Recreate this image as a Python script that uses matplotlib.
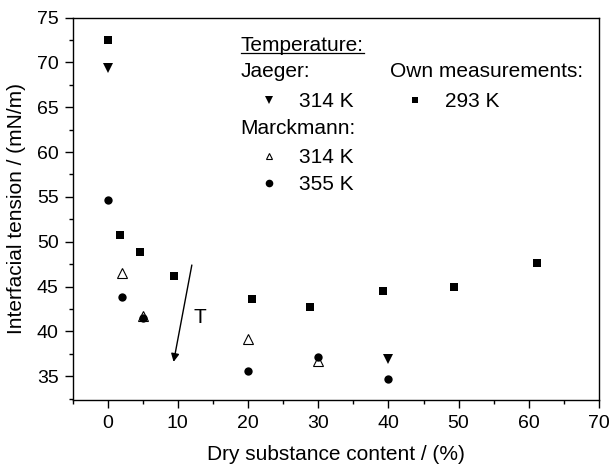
import matplotlib
matplotlib.use("Agg")
import matplotlib.pyplot as plt
from matplotlib.ticker import MultipleLocator
from matplotlib.lines import Line2D

plt.rcParams['font.family'] = ['Liberation Sans', 'DejaVu Sans']

# Own measurements, 293 K
own_x = [0, 1.8, 4.6, 9.4, 20.6, 28.9, 39.3, 49.3, 61.2]
own_y = [72.5, 50.8, 48.9, 46.2, 43.6, 42.7, 44.5, 44.9, 47.6]
# Jaeger, 314 K
jaeger_x = [0, 40]
jaeger_y = [69.4, 36.9]
# Marckmann, 314 K
marck314_x = [2, 5, 20, 30]
marck314_y = [46.5, 41.7, 39.1, 36.7]
# Marckmann, 355 K
marck355_x = [0, 2, 5, 20, 30, 40]
marck355_y = [54.7, 43.8, 41.5, 35.6, 37.1, 34.7]

xticks = [0, 10, 20, 30, 40, 50, 60, 70]
yticks = [35, 40, 45, 50, 55, 60, 65, 70, 75]

fig = plt.figure(figsize=(6.11, 4.66), dpi=100)
ax = fig.add_axes([72.5/611, 1-400/466, (599-72.5)/611, (400-17.5)/466])

ax.plot(own_x, own_y, 's', color='black', ms=5.5, mew=0)
ax.plot(jaeger_x, jaeger_y, 'v', color='black', ms=6.5, mew=0)
ax.plot(marck314_x, marck314_y, '^', mfc='white', mec='black', ms=6.5, mew=0.8)
ax.plot(marck355_x, marck355_y, 'o', color='black', ms=6, mew=0)

ax.set_xlim(-5, 70)
ax.set_ylim(32.35, 75)
ax.set_xticks(xticks)
ax.set_yticks(yticks)
ax.xaxis.set_minor_locator(MultipleLocator(5))
ax.yaxis.set_minor_locator(MultipleLocator(2.5))
ax.tick_params(which='major', direction='out', length=5.5, width=1, labelsize=14)
ax.tick_params(which='minor', direction='out', length=3, width=1)
ax.tick_params(axis='x', which='major', pad=5.5)
ax.tick_params(axis='y', which='major', pad=4.5)
for s in ax.spines.values():
    s.set_linewidth(1)

ax.set_xlabel('Dry substance content / (%)', fontsize=15, labelpad=9)
ax.set_ylabel('Interfacial tension / (mN/m)', fontsize=15, labelpad=8)

# Temperature arrow
ax.annotate('', xy=(9.4, 36.6), xytext=(12.0, 47.4),
            arrowprops=dict(arrowstyle='-|>', color='black', lw=1,
                            mutation_scale=12, shrinkA=0, shrinkB=0))
ax.text(12.2, 41.6, 'T', fontsize=15, ha='left', va='center')

# Legend built from text
fs = 15
tr = ax.transAxes
kw = dict(fontsize=fs, transform=tr, va='baseline', ha='left')
t_temp = ax.text(0.3195, 0.9124, 'Temperature:', **kw)
ax.text(0.3195, 0.8437, 'Jaeger:', **kw)
ax.add_line(Line2D([0.373], [0.785], marker='v', color='black', ms=6, mew=0, transform=tr, ls='none'))
ax.text(0.430, 0.7668, '314 K', **kw)
ax.text(0.3195, 0.6954, 'Marckmann:', **kw)
ax.add_line(Line2D([0.373], [0.637], marker='^', mfc='white', mec='black', ms=5, mew=0.8, transform=tr, ls='none'))
ax.text(0.430, 0.6188, '314 K', **kw)
ax.add_line(Line2D([0.373], [0.567], marker='o', color='black', ms=5.5, mew=0, transform=tr, ls='none'))
ax.text(0.430, 0.549, '355 K', **kw)
ax.text(0.603, 0.8437, 'Own measurements:', **kw)
ax.add_line(Line2D([0.6505], [0.785], marker='s', color='black', ms=4.5, mew=0, transform=tr, ls='none'))
ax.text(0.7075, 0.7668, '293 K', **kw)

fig.canvas.draw()
bb = t_temp.get_window_extent().transformed(tr.inverted())
uy = 0.9124 - 0.005
ax.add_line(Line2D([bb.x0, bb.x1], [uy, uy], color='black', lw=0.9, transform=tr))

fig.savefig('out.png', dpi=100)
